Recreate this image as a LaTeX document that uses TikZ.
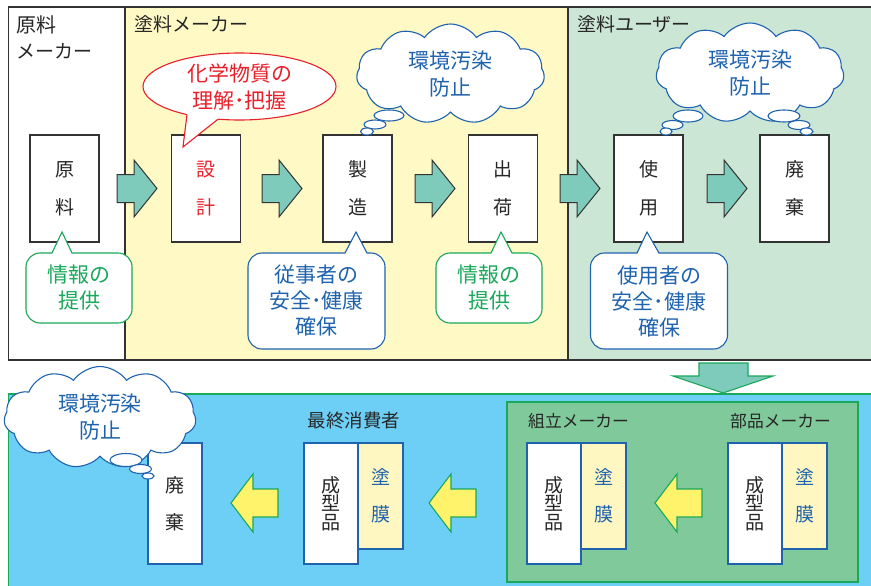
\documentclass[tikz,border=0pt]{standalone}
\usepackage{fontspec}
\setmainfont{Noto Sans CJK JP}
\usetikzlibrary{shapes.geometric,shapes.symbols}
\definecolor{framegray}{HTML}{333333}
\definecolor{txtgray}{HTML}{262626}
\definecolor{yelbg}{HTML}{FFF9C6}
\definecolor{grnbg}{HTML}{CCE6D5}
\definecolor{tealc}{HTML}{7ECBBB}
\definecolor{bluebg}{HTML}{6DCFF6}
\definecolor{innergrn}{HTML}{80C99B}
\definecolor{greenc}{HTML}{1AA85A}
\definecolor{bluec}{HTML}{1F63AE}
\definecolor{redc}{HTML}{E8202A}
\definecolor{membrane}{HTML}{FFF7C2}
\definecolor{yelarr}{HTML}{FFF36B}
\newcommand\fhead{\fontsize{19}{26}\selectfont}
\tikzset{
  frame/.style={draw=framegray, line width=1.1pt},
  pbox/.style={draw=framegray, line width=1.1pt, fill=white, minimum width=69pt, minimum height=107pt, inner sep=0pt, align=center, font=\fontsize{19}{38}\selectfont, text=txtgray},
  bbox/.style={draw=bluec, line width=1.1pt, fill=white, minimum width=54pt, minimum height=121pt, inner sep=0pt, align=center, text=txtgray},
  mbox/.style={draw=bluec, line width=1.1pt, fill=membrane, minimum width=45pt, minimum height=106pt, inner sep=0pt, align=center, text=bluec, font=\fontsize{19}{37}\selectfont},
  headtxt/.style={anchor=west, inner sep=0pt, font=\fhead, text=txtgray},
  lowtxt/.style={anchor=west, inner sep=0pt, font=\fontsize{16.8}{20}\selectfont, text=txtgray},
  gcall/.style={draw=greenc, line width=1.1pt, fill=white, rounded corners=14pt, text=greenc, align=center, font=\fontsize{21}{26}\selectfont, minimum width=106pt, minimum height=70pt, inner sep=0pt},
  bcall/.style={draw=bluec, line width=1.1pt, fill=white, rounded corners=14pt, text=bluec, align=center, font=\fontsize{21}{26}\selectfont, minimum width=137pt, minimum height=96pt, inner sep=0pt},
  cloudy/.style={cloud, cloud puffs=11, cloud puff arc=110, cloud ignores aspect, draw=bluec, line width=1.1pt, fill=white, text=bluec, align=center, font=\fontsize{21}{27}\selectfont, inner sep=0pt, minimum width=188pt, minimum height=100pt},
  bubble/.style={draw=bluec, line width=1.1pt, fill=white},
  tealarrow/.style={fill=tealc, draw=framegray, line width=1pt},
  downarrow/.style={fill=tealc, draw=greenc, line width=1.1pt},
  yelarrow/.style={fill=yelarr, draw=greenc, line width=1.1pt},
  rarrow/.pic={\path[tealarrow] (0,-14) -- (17,-14) -- (17,-28.5) -- (40,0) -- (17,28.5) -- (17,14) -- (0,14) -- cycle;},
  larrow/.pic={\path[yelarrow] (0,0) -- (22,-29) -- (22,-14) -- (47,-14) -- (47,14) -- (22,14) -- (22,29) -- cycle;}
}
\begin{document}
\begin{tikzpicture}[x=1pt,y=-1pt]
\useasboundingbox (0,0) rectangle (871,586);
\fill[white] (0,0) rectangle (871,586);
% top band
\fill[yelbg] (125,7) rectangle (568,360);
\fill[grnbg] (568,7) rectangle (871,360);
\draw[frame] (872,7) -- (8.5,7) -- (8.5,360) -- (872,360);
\draw[frame] (125,7) -- (125,360);
\draw[frame] (568,7) -- (568,360);
% headers
\node[headtxt, font=\fontsize{20}{26}\selectfont] (h1a) at (16,24.5) {原料};
\node[headtxt] (h1b) at (16,51) {メーカー};
\node[headtxt] (h2) at (134,24.5) {塗料メーカー};
\node[headtxt] (h3) at (577,24.5) {塗料ユーザー};
% process boxes
\node[pbox] (genryo) at (64.5,188.5) {原\\料};
\node[pbox, text=redc] (sekkei) at (206,188.5) {設\\計};
\node[pbox] (seizo) at (357.5,188.5) {製\\造};
\node[pbox] (shukka) at (503,188.5) {出\\荷};
\node[pbox] (shiyo) at (648.5,188.5) {使\\用};
\node[pbox] (haiki) at (794.5,188.5) {廃\\棄};
% arrows
\pic at (117,188.5) {rarrow};
\pic at (262,188.5) {rarrow};
\pic at (415,188.5) {rarrow};
\pic at (560,188.5) {rarrow};
\pic at (707,188.5) {rarrow};
% red ellipse callout
\node[ellipse, draw=redc, line width=1.1pt, fill=white, minimum width=193pt, minimum height=67pt, inner sep=0pt, text=redc, align=center, font=\fontsize{21}{27}\selectfont] (chem) at (239.5,86.5) {化学物質の\\理解･把握};
\fill[white] (187,111) -- (187,114.6) -- (183,147) -- (218,119.2) -- (218,115) -- cycle;
\draw[redc, line width=1.1pt, line join=miter] (187,114.6) -- (183,147) -- (218,119.2);
% green callouts
\node[gcall] (info1) at (79,288) {情報の\\提供};
\fill[white] (52,254.5) -- (62,232) -- (72,254.5) -- cycle;
\draw[greenc, line width=1.1pt] (52,253) -- (62,232) -- (72,253);
\node[gcall] (info2) at (489,288) {情報の\\提供};
\fill[white] (491,254.5) -- (501,232) -- (512,254.5) -- cycle;
\draw[greenc, line width=1.1pt] (491,253) -- (501,232) -- (512,253);
% blue callouts
\node[bcall] (safe1) at (316.5,301) {従事者の\\安全･健康\\確保};
\fill[white] (345,254.5) -- (356,232) -- (367,254.5) -- cycle;
\draw[bluec, line width=1.1pt] (345,253) -- (356,232) -- (367,253);
\node[bcall] (safe2) at (659,301) {使用者の\\安全･健康\\確保};
\fill[white] (637,254.5) -- (647,232) -- (659,254.5) -- cycle;
\draw[bluec, line width=1.1pt] (637,253) -- (647,232) -- (659,253);
% clouds (top)
\node[cloudy] (env1) at (450.5,74) {環境汚染\\防止};
\draw[bubble] (389,115.5) ellipse [x radius=15, y radius=5.5];
\draw[bubble] (375,124.5) ellipse [x radius=11, y radius=4.5];
\draw[bubble] (367,131.5) ellipse [x radius=6.5, y radius=3.5];
\node[cloudy] (env2) at (750,73) {環境汚染\\防止};
\draw[bubble] (688,116) ellipse [x radius=15, y radius=6];
\draw[bubble] (672.5,125) ellipse [x radius=10.5, y radius=4.5];
\draw[bubble] (666,131.5) ellipse [x radius=6, y radius=3.5];
\draw[bubble] (784,116) ellipse [x radius=16, y radius=6];
\draw[bubble] (799,125) ellipse [x radius=11, y radius=4.5];
\draw[bubble] (806.5,131.5) ellipse [x radius=6.5, y radius=3.5];
% down arrow
\path[downarrow] (699,363) -- (748,363) -- (748,376) -- (773,376) -- (723,393) -- (673,376) -- (699,376) -- cycle;
% bottom band
\fill[bluebg] (8.5,394) rectangle (872,587);
\draw[greenc, line width=1.1pt] (872,394) -- (8.5,394) -- (8.5,587);
\draw[greenc, line width=1.5pt, fill=innergrn] (507,402) rectangle (858,582);
% bottom labels
\node[inner sep=0pt, font=\fontsize{18.5}{22}\selectfont, text=txtgray] (consumer) at (354,421) {最終消費者};
\node[lowtxt] (assembler) at (528,421) {組立メーカー};
\node[lowtxt] (parts) at (730,421) {部品メーカー};
% bottom boxes
\node[bbox, font=\fontsize{19}{37}\selectfont] (haiki2) at (175,503.5) {廃\\棄};
\node[mbox] (mem1) at (380.5,496) {塗\\膜};
\node[bbox, font=\fontsize{19}{18.5}\selectfont] (mold1) at (331,503.5) {成\\型\\品};
\node[mbox] (mem2) at (603.5,496) {塗\\膜};
\node[bbox, font=\fontsize{19}{18.5}\selectfont] (mold2) at (554,503.5) {成\\型\\品};
\node[mbox] (mem3) at (804.5,496) {塗\\膜};
\node[bbox, font=\fontsize{19}{18.5}\selectfont] (mold3) at (755,503.5) {成\\型\\品};
% yellow arrows
\pic at (231,503) {larrow};
\pic at (429,503) {larrow};
\pic at (655,503) {larrow};
% bottom cloud
\node[cloudy, minimum width=192pt, minimum height=102pt] (env3) at (100,417.5) {環境汚染\\防止};
\draw[bubble] (126,460) ellipse [x radius=16, y radius=6.5];
\draw[bubble] (140.5,469) ellipse [x radius=11, y radius=4.5];
\draw[bubble] (148,476) ellipse [x radius=6, y radius=3];
\end{tikzpicture}
\end{document}
